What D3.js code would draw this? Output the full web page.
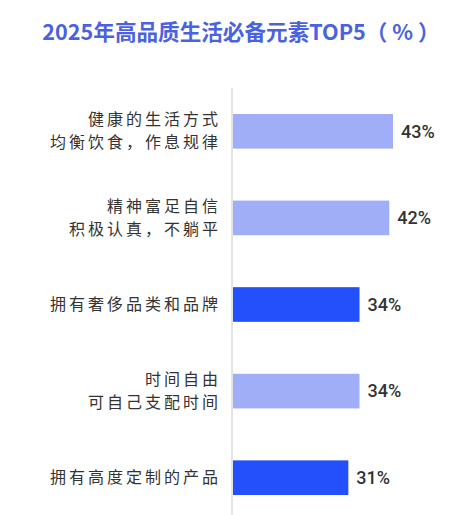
<!DOCTYPE html>
<html>
<head>
<meta charset="utf-8">
<script src="https://cdn.jsdelivr.net/npm/d3@7"></script>
<style>
  body { margin: 0; background: #fff; }
  svg text { font-family: "Noto Sans CJK SC", "Noto Sans", sans-serif; }
</style>
</head>
<body>
<div id="chart"></div>
<script>
var w = 475;
var h = 515;

// data
var titleText = "2025年高品质生活必备元素TOP5（ % ）";
var categories = [
  ["健康的生活方式", "均衡饮食，作息规律"],
  ["精神富足自信", "积极认真，不躺平"],
  ["拥有奢侈品类和品牌"],
  ["时间自由", "可自己支配时间"],
  ["拥有高度定制的产品"]
];
var values = [43, 42, 34, 34, 31];
var highlight = [false, false, true, false, true];

var lightBlue = "#a0aef7";
var darkBlue = "#2450fb";

var svg = d3.select("#chart")
  .append("svg")
  .attr("width", w)
  .attr("height", h);

// title
svg.append("text")
  .attr("x", 241)
  .attr("y", 40)
  .attr("text-anchor", "middle")
  .attr("fill", "#4a62e0")
  .attr("font-size", 21.6)
  .attr("font-weight", "bold")
  .text(titleText);

var x0 = 233;
var x = d3.scaleLinear()
  .domain([0, 43])
  .range([x0, 393]);

var y = d3.scaleBand()
  .domain(d3.range(values.length))
  .range([88, 521])
  .paddingInner(0.6)
  .paddingOuter(0.3);

// axis line on the left of the bars
svg.append("line")
  .attr("x1", x0 - 1)
  .attr("x2", x0 - 1)
  .attr("y1", 88)
  .attr("y2", h)
  .attr("stroke", "#e3e3e3")
  .attr("stroke-width", 2);

svg.selectAll(".bar")
  .data(values)
  .enter()
  .append("rect")
  .attr("class", "bar")
  .attr("x", x0)
  .attr("y", function(d, i) { return y(i); })
  .attr("width", function(d) { return x(d) - x0; })
  .attr("height", y.bandwidth())
  .attr("fill", function(d, i) { return highlight[i] ? darkBlue : lightBlue; });

// value labels
svg.selectAll(".val")
  .data(values)
  .enter()
  .append("text")
  .attr("class", "val")
  .attr("x", function(d) { return x(d) + 8; })
  .attr("y", function(d, i) { return y(i) + y.bandwidth() / 2; })
  .attr("dy", "0.35em")
  .attr("font-size", 18)
  .attr("font-weight", 500)
  .attr("fill", "#333")
  .style("font-family", "Roboto, sans-serif")
  .text(function(d) { return d + "%"; });

// category labels, one text per line
var lineGap = 23;
var catLines = [];
categories.forEach(function(lines, i) {
  lines.forEach(function(t, j) {
    catLines.push({ text: t, row: i, off: j - (lines.length - 1) / 2 });
  });
});

svg.selectAll(".cat")
  .data(catLines)
  .enter()
  .append("text")
  .attr("class", "cat")
  .attr("text-anchor", "end")
  .attr("x", 221)
  .attr("y", function(d) { return y(d.row) + y.bandwidth() / 2 + d.off * lineGap; })
  .attr("dy", "0.35em")
  .attr("font-size", 16)
  .attr("fill", "#333")
  .style("letter-spacing", "3px")
  .text(function(d) { return d.text; });
</script>
</body>
</html>
